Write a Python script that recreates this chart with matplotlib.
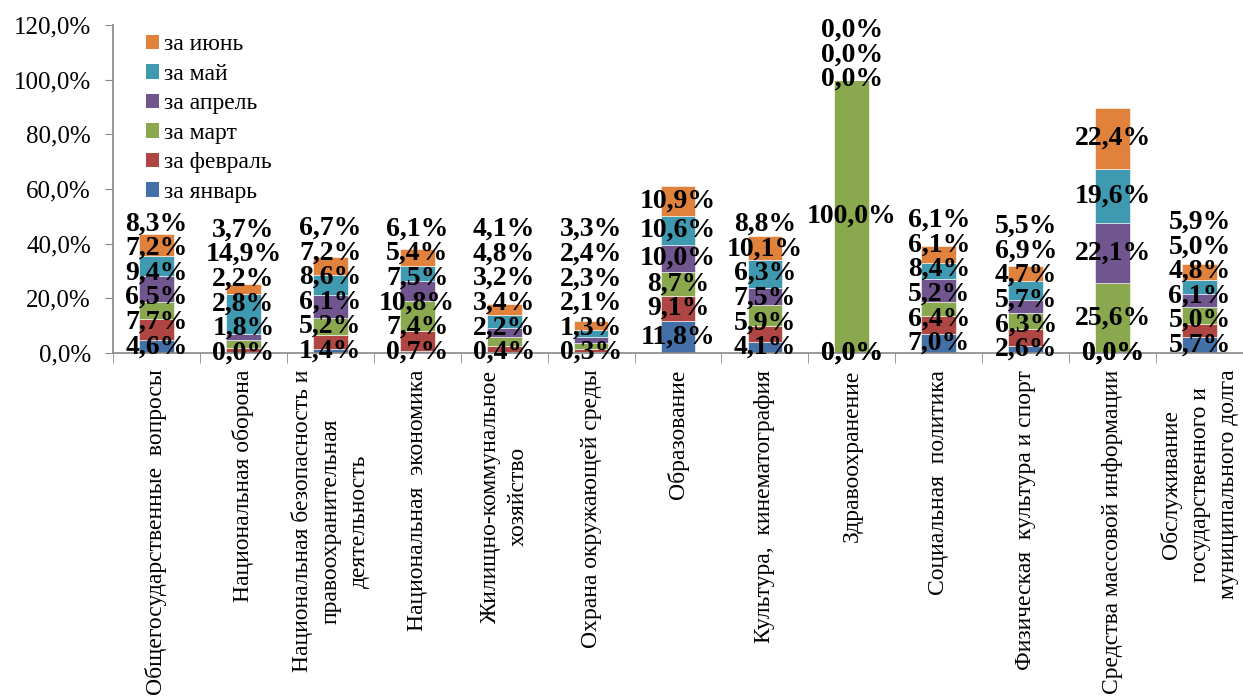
import numpy as np
import matplotlib
matplotlib.use("Agg")
import matplotlib.pyplot as plt
from matplotlib.patches import Patch

plt.rcParams['font.family'] = ['Liberation Serif', 'DejaVu Serif']

categories = [
    "Общегосударственные  вопросы",
    "Национальная оборона",
    "Национальная безопасность и\nправоохранительная\nдеятельность",
    "Национальная  экономика",
    "Жилищно-коммунальное\nхозяйство",
    "Охрана окружающей среды",
    "Образование",
    "Культура,  кинематография",
    "Здравоохранение",
    "Социальная  политика",
    "Физическая  культура и спорт",
    "Средства массовой информации",
    "Обслуживание\nгосударственного и\nмуниципального долга",
]
months = ["за январь", "за февраль", "за март", "за апрель", "за май", "за июнь"]

jan = [4.6, 0.0, 1.4, 0.7, 0.4, 0.3, 11.8, 4.1, 0.0, 7.0, 2.6, 0.0, 5.7]
feb = [7.7, 1.8, 5.2, 7.4, 2.2, 1.3, 9.1, 5.9, 0.0, 6.4, 6.3, 0.0, 5.0]
mar = [6.5, 2.8, 6.1, 10.8, 3.4, 2.1, 8.7, 7.5, 100.0, 5.2, 5.7, 25.6, 6.1]
apr = [9.4, 2.2, 8.6, 7.5, 3.2, 2.3, 10.0, 6.3, 0.0, 8.4, 4.7, 22.1, 4.8]
may = [7.2, 14.9, 7.2, 5.4, 4.8, 2.4, 10.6, 10.1, 0.0, 6.1, 6.9, 19.6, 5.0]
jun = [8.3, 3.7, 6.7, 6.1, 4.1, 3.3, 10.9, 8.8, 0.0, 6.1, 5.5, 22.4, 5.9]

series = [jan, feb, mar, apr, may, jun]
colors = ["#4470A8", "#B04643", "#8AA84E", "#71558F", "#3F9AB1", "#E0823C"]

fig = plt.figure(figsize=(12.43, 6.96), dpi=100)
ax = fig.add_axes([113 / 1243, 1 - 353 / 696, 1130 / 1243, 328 / 696])

x = np.arange(len(categories))
bottom = np.zeros(len(categories))
label_pos = [[] for _ in categories]
for vals, col, name in zip(series, colors, months):
    v = np.array(vals)
    ax.bar(x, v, 0.4, bottom=bottom, color=col, edgecolor="white",
           linewidth=0.4, label=name)
    for i in range(len(categories)):
        c = bottom[i] + v[i] / 2
        # spread labels upwards so they don't sit on top of each other
        if label_pos[i] and not (bottom[i] == 0 and v[i] == 0):
            c = max(c, label_pos[i][-1] + 9.0)
        label_pos[i].append(c)
        txt = f"{v[i]:.1f}%".replace(".", ",")
        ax.text(x[i], c, txt, ha="center", va="center", fontsize=20,
                fontweight="bold", color="black", clip_on=False)
    bottom += v

ax.set_xlim(-0.5, len(categories) - 0.5)
ax.set_ylim(0, 120)
ax.set_yticks(np.arange(0, 121, 20))
ax.set_yticklabels([f"{t:.1f}%".replace(".", ",") for t in np.arange(0, 121, 20)],
                   fontsize=18)
ax.set_xticks(x)
ax.set_xticklabels(categories, rotation=90, fontsize=17, linespacing=1.45,
                   multialignment="center")
ax.set_xticks(np.arange(-0.5, len(categories)), minor=True)
ax.tick_params(axis="x", which="major", length=0, pad=12)
ax.tick_params(axis="x", which="minor", length=7, color="#888888", direction="out")
ax.tick_params(axis="y", length=6, color="#888888", direction="out", pad=10)

for s in ["top", "right"]:
    ax.spines[s].set_visible(False)
for s in ["left", "bottom"]:
    ax.spines[s].set_color("#888888")
    ax.spines[s].set_linewidth(1.2)

handles = [Patch(facecolor=c, label=m) for c, m in zip(colors, months)][::-1]
ax.legend(handles=handles, loc="upper left", bbox_to_anchor=(0.021, 1.0),
          frameon=False, fontsize=17, handlelength=0.55, handleheight=0.55,
          handletextpad=0.2, labelspacing=0.36, borderaxespad=0)

fig.savefig("out.png", dpi=100)
